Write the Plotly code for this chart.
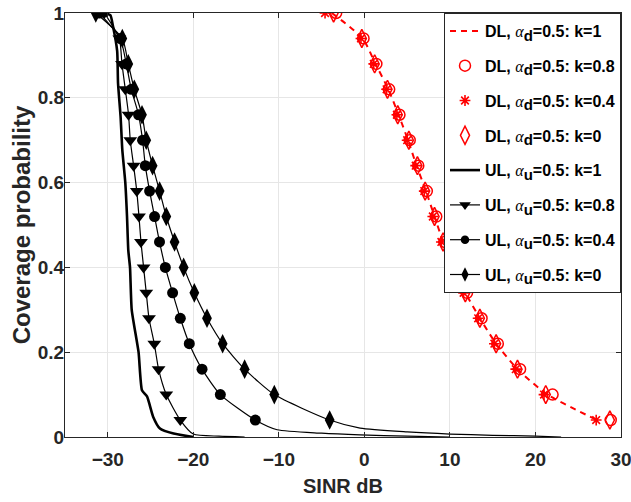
import plotly.graph_objects as go

# ---------------- data ----------------
y_levels = [1.0, 0.94, 0.88, 0.82, 0.76, 0.70, 0.64, 0.58, 0.52, 0.46,
            0.40, 0.34, 0.28, 0.22, 0.16, 0.10, 0.04]

# Downlink (red)
dl_k1_x = [-3.8, -0.2, 1.3, 2.8, 4.0, 5.1, 6.1, 7.2, 8.2, 9.2,
           10.3, 11.8, 13.5, 15.4, 17.9, 21.4, 27.2]
dl_k08_x = [-3.3, -0.1, 1.4, 2.9, 4.1, 5.3, 6.3, 7.3, 8.4, 9.4,
            10.5, 12.0, 13.7, 15.6, 18.2, 22.0, 28.8]
dl_k04_x = [-4.6, -0.4, 1.1, 2.6, 3.8, 5.0, 6.0, 7.0, 8.0, 9.0,
            10.1, 11.6, 13.3, 15.2, 17.7, 21.0, 27.1]
dl_k0_x = [-3.6, -0.3, 1.2, 2.7, 3.9, 5.2, 6.2, 7.1, 8.2, 9.2,
           10.3, 11.8, 13.5, 15.4, 17.9, 21.2, 28.7]

# Uplink (black)
ul_k1_x = [-30.5, -29.7, -29.4, -28.9, -28.8, -28.5, -28.3, -27.95, -27.75,
           -27.6, -27.4, -27.2, -26.4, -26.0, -25.4, -24.7, -23.9, -22.3, -20.0]
ul_k1_y = [1.0, 0.995, 0.97, 0.91, 0.835, 0.755, 0.677, 0.60, 0.52,
           0.44, 0.40, 0.30, 0.20, 0.11, 0.095, 0.048, 0.02, 0.008, 0.0]

ul_k08_x = [-30.4, -28.65, -28.34, -27.95, -27.57, -27.37, -26.98, -26.61, -26.35,
            -26.12, -25.81, -25.5, -25.18, -24.56, -24.06, -23.16, -21.52]
ul_k04_x = [-31.0, -28.54, -27.84, -27.25, -26.4, -25.93, -25.61, -25.11, -24.53,
            -23.95, -23.27, -22.42, -21.52, -20.47, -18.98, -16.84, -12.75]
ul_k0_x = [-31.4, -28.3, -27.6, -26.9, -26.0, -25.5, -24.76, -23.94, -23.16,
           -22.19, -21.13, -19.88, -18.4, -16.57, -14.0, -10.53, -4.06]

# curve tails beyond the last marker (no markers)
ul_k08_tail_x = [-20.0, -17.0, -14.0]
ul_k08_tail_y = [0.007, 0.002, 0.0]
ul_k04_tail_x = [-10.2, -5.0, -0.5, 5.0, 10.0]
ul_k04_tail_y = [0.017, 0.009, 0.005, 0.002, 0.0]
ul_k0_tail_x = [-0.5, 5.0, 10.0, 15.0, 20.0, 23.0]
ul_k0_tail_y = [0.021, 0.012, 0.007, 0.004, 0.002, 0.0]

x_ticks = [-30, -20, -10, 0, 10, 20, 30]
y_ticks = [0, 0.2, 0.4, 0.6, 0.8, 1]
y_tick_labels = ["0", "0.2", "0.4", "0.6", "0.8", "1"]

# ---------------- figure ----------------
FONT = "Liberation Sans, Arial, sans-serif"
RED = "#ff0000"
BLK = "#000000"
GRAY = "#262626"


def lbl(link, sub, k):
    return (f"{link}, <span style=\"font-family:'Liberation Serif';font-weight:normal\"><i>α</i></span>"
            f"<sub><span style=\"font-size:15px\">{sub}</span></sub>=0.5: k={k}")


fig = go.Figure()

fig.add_trace(go.Scatter(
    x=dl_k1_x, y=y_levels, mode="lines", name=lbl("DL", "d", "1"),
    line=dict(color=RED, width=2, dash="6px,5px", shape="spline", smoothing=0.6),
    legendgroup="a"))
fig.add_trace(go.Scatter(
    x=dl_k08_x, y=y_levels, mode="markers", name=lbl("DL", "d", "0.8"),
    marker=dict(symbol="circle-open", size=11, color=RED, line=dict(width=1.5, color=RED)),
    legendgroup="b"))
fig.add_trace(go.Scatter(
    x=dl_k04_x, y=y_levels, mode="markers", name=lbl("DL", "d", "0.4"),
    marker=dict(symbol="asterisk-open", size=9, color=RED, line=dict(width=1.6, color=RED)),
    legendgroup="c"))
fig.add_trace(go.Scatter(
    x=dl_k0_x, y=y_levels, mode="markers", name=lbl("DL", "d", "0"),
    marker=dict(symbol="diamond-tall-open", size=13, color=RED, line=dict(width=1.5, color=RED)),
    legendgroup="d"))

fig.add_trace(go.Scatter(
    x=ul_k1_x, y=ul_k1_y, mode="lines", name=lbl("UL", "u", "1"),
    line=dict(color=BLK, width=2.6, shape="spline", smoothing=0.5),
    legendgroup="e"))

for xs, tx, ty, sym, sz, k, g in [
        (ul_k08_x, ul_k08_tail_x, ul_k08_tail_y, "triangle-down", 12, "0.8", "f"),
        (ul_k04_x, ul_k04_tail_x, ul_k04_tail_y, "circle", 11, "0.4", "g"),
        (ul_k0_x, ul_k0_tail_x, ul_k0_tail_y, "diamond-tall", 14, "0", "h")]:
    sizes = [sz] * len(xs) + [0] * len(tx)
    fig.add_trace(go.Scatter(
        x=list(xs) + list(tx), y=list(y_levels) + list(ty), mode="lines+markers",
        name=lbl("UL", "u", k),
        line=dict(color=BLK, width=1.2, shape="spline", smoothing=0.6),
        marker=dict(symbol=sym, size=sizes, color=BLK, opacity=1, line=dict(width=0)),
        legendgroup=g))

axis_common = dict(
    showline=True, linecolor=GRAY, linewidth=1, mirror="ticks",
    ticks="inside", ticklen=5, tickcolor=GRAY,
    showgrid=True, gridcolor="#e6e6e6", gridwidth=1, zeroline=False,
    automargin=False, ticklabeloverflow="allow",
    tickfont=dict(family=FONT, size=19, color=GRAY, weight="bold"),
)

fig.update_xaxes(range=[-35, 30], tickvals=x_ticks, ticklabelstandoff=5,
                 title=dict(text="SINR dB", standoff=10,
                            font=dict(family=FONT, size=20, color=GRAY, weight="bold")),
                 **axis_common)
fig.update_yaxes(range=[0, 1], tickvals=y_ticks, ticktext=y_tick_labels,
                 ticklabelstandoff=-4,
                 title=dict(text="Coverage probability", standoff=0,
                            font=dict(family=FONT, size=24, color=GRAY, weight="bold")),
                 **axis_common)

fig.update_layout(
    width=631, height=502,
    margin=dict(l=65, r=10, t=13, b=65, autoexpand=False),
    paper_bgcolor="white", plot_bgcolor="white",
    showlegend=True,
    legend=dict(
        x=1, y=1, xanchor="right", yanchor="top",
        bgcolor="white", bordercolor=GRAY, borderwidth=1,
        font=dict(family=FONT, size=16, color="#000000", weight="bold"),
        tracegroupgap=11, itemwidth=30,
    ),
)

fig.write_html("out.html", config={"displayModeBar": False},
               post_script="document.body.style.margin='0';")
